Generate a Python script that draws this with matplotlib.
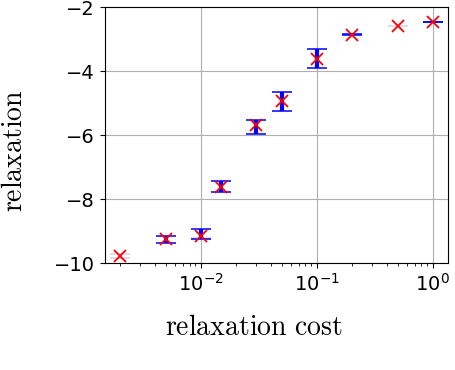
import numpy as np
import matplotlib
matplotlib.use("Agg")
import matplotlib.pyplot as plt

plt.rcParams["mathtext.fontset"] = "cm"

# relaxation cost vs relaxation (mean markers)
cost = [0.002, 0.005, 0.01, 0.015, 0.03, 0.05, 0.1, 0.2, 0.5, 1.0]
relax_mean = [-9.79, -9.25, -9.14, -7.61, -5.69, -4.93, -3.61, -2.86, -2.59, -2.47]

# blue spread bars
bar_cost = [0.005, 0.01, 0.015, 0.03, 0.05, 0.1, 0.2, 1.0]
bar_center = [-9.25, -9.10, -7.62, -5.76, -4.95, -3.60, -2.86, -2.47]
bar_err = [0.11, 0.15, 0.17, 0.22, 0.31, 0.29, 0.01, 0.01]

# faint second run
faint_cost = [0.002, 0.01, 0.5]
faint_center = [-9.78, -9.24, -2.59]
faint_err = [0.07, 0.01, 0.01]

fig = plt.figure(figsize=(4.56, 3.70), dpi=100)
ax = fig.add_axes([0.230, 0.289, 0.752, 0.692])

ax.errorbar(faint_cost, faint_center, yerr=faint_err, fmt="none",
            ecolor="#dcdcef", elinewidth=2, capsize=7, capthick=1.5, zorder=2)
ax.errorbar(bar_cost, bar_center, yerr=bar_err, fmt="none", ecolor="blue",
            elinewidth=3, capsize=7, capthick=1.1, zorder=3)
ax.plot(cost, relax_mean, "x", color="red", markersize=8, mew=1.3, zorder=4)

ax.set_xscale("log")
ax.set_xlim(0.00149, 1.35)
ax.set_ylim(-10, -2)
ax.set_yticks([-10, -8, -6, -4, -2])
ax.grid(True, which="major", color="#b0b0b0", lw=0.8)
ax.tick_params(axis="both", labelsize=14)

ax.set_xlabel(r"$\mathrm{relaxation\ cost}$", fontsize=20, va="center", ha="center")
ax.set_ylabel(r"$\mathrm{relaxation}$", fontsize=20, va="center", ha="center")
ax.xaxis.set_label_coords(0.433, -0.25)
ax.yaxis.set_label_coords(-0.265, 0.44)

fig.savefig("out.png", dpi=100)
